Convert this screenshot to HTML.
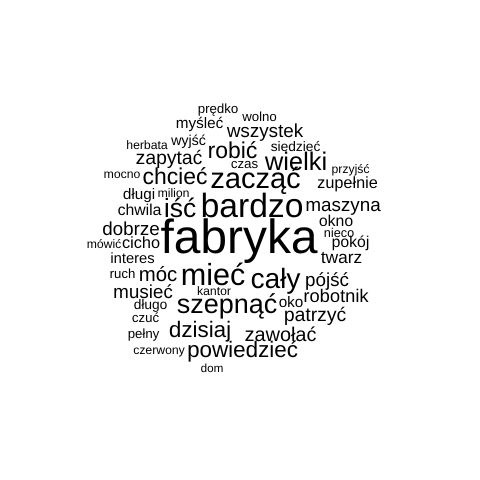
<!DOCTYPE html>
<html lang="pl">
<head>
<meta charset="utf-8">
<title>Word cloud</title>
<style>
html,body{margin:0;padding:0;background:#fff;}
svg{display:block;}
text{font-family:"Liberation Sans",Arial,sans-serif;fill:#000;text-anchor:middle;text-rendering:geometricPrecision;}
</style>
</head>
<body>
<svg id="cloud" width="480" height="480" viewBox="0 0 480 480" xmlns="http://www.w3.org/2000/svg">
<rect width="480" height="480" fill="#fff"/>
<text x="218" y="113">prędko</text>
<text x="199.5" y="128">myśleć</text>
<text x="265" y="137">wszystek</text>
<text x="147" y="149">herbata</text>
<text x="188.5" y="145">wyjść</text>
<text x="169" y="164">zapytać</text>
<text x="232.5" y="158">robić</text>
<text x="175" y="184">chcieć</text>
<text x="255.5" y="188">zacząć</text>
<text x="122" y="178">mocno</text>
<text x="139" y="199">długi</text>
<text x="173.5" y="197">milion</text>
<text x="139.5" y="215">chwila</text>
<text x="180" y="217">iść</text>
<text x="252" y="217">bardzo</text>
<text x="131" y="235">dobrze</text>
<text x="239" y="253">fabryka</text>
<text x="259.5" y="121">wolno</text>
<text x="295.5" y="151">siedzieć</text>
<text x="244.5" y="168">czas</text>
<text x="296" y="170">wielki</text>
<text x="350.5" y="173">przyjść</text>
<text x="347.5" y="188">zupełnie</text>
<text x="343" y="211">maszyna</text>
<text x="336" y="226">okno</text>
<text x="339" y="237">nieco</text>
<text x="350.5" y="247">pokój</text>
<text x="341.5" y="263">twarz</text>
<text x="275.5" y="288">cały</text>
<text x="327" y="286">pójść</text>
<text x="336" y="302">robotnik</text>
<text x="291" y="307">oko</text>
<text x="315" y="321">patrzyć</text>
<text x="227" y="313">szepnąć</text>
<text x="280.5" y="341">zawołać</text>
<text x="242.5" y="357">powiedzieć</text>
<text x="213" y="285">mieć</text>
<text x="104" y="248">mówić</text>
<text x="141" y="248">cicho</text>
<text x="132.5" y="263">interes</text>
<text x="122.5" y="278">ruch</text>
<text x="158" y="281">móc</text>
<text x="143" y="298">musieć</text>
<text x="214" y="295">kantor</text>
<text x="150.5" y="309">długo</text>
<text x="145.5" y="322">czuć</text>
<text x="143.5" y="338">pełny</text>
<text x="200" y="337">dzisiaj</text>
<text x="159" y="354">czerwony</text>
<text x="212" y="372">dom</text>
</svg>
<script>
// Estimated word frequencies, in the same order as the words in the SVG.
const frequencies = [8,12,19,6,10,20,27,27,39,6,12,6,13,34,48,19,76,8,9,8,32,6,14,19,13,7,13,16,37,19,18,12,20,35,21,26,42,6,14,11,8,22,19,6,9,8,8,26,6,5];
// Axis function: frequency to font size in pixels.
function fontSizeOf(freq) {
  return 11.7 + (freq - 5) * 0.51;
}
document.querySelectorAll('#cloud text').forEach(function (el, i) {
  el.setAttribute('font-size', fontSizeOf(frequencies[i]));
});
</script>
</body>
</html>
